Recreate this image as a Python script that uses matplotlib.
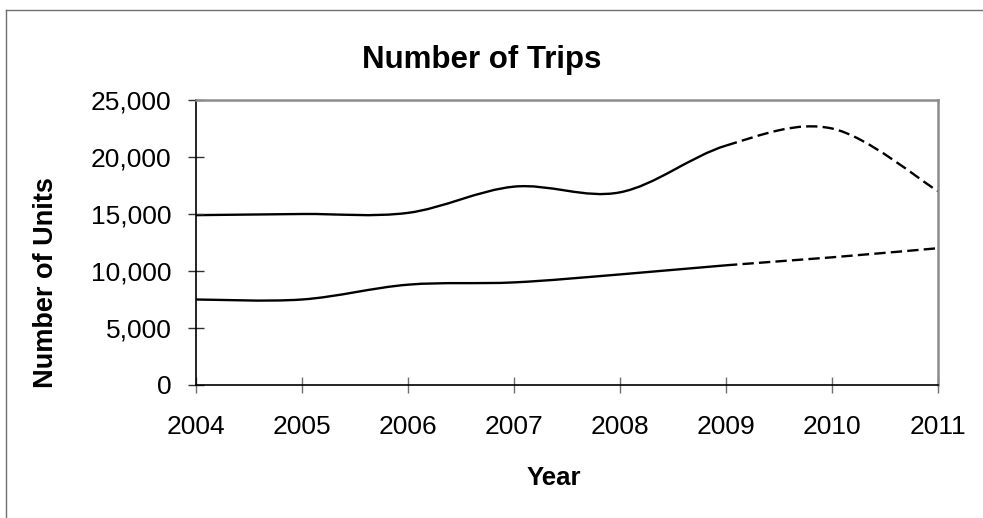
import matplotlib
matplotlib.use('Agg')
import matplotlib.pyplot as plt
from matplotlib.path import Path
from matplotlib.patches import PathPatch
from matplotlib.lines import Line2D
from matplotlib.ticker import FuncFormatter
import numpy as np

#*********** Data *********#
years = [2004, 2005, 2006, 2007, 2008, 2009, 2010, 2011]
trips_upper = [14900, 15000, 15100, 17400, 16900, 21000, 22500, 17000]
trips_lower = [7500, 7500, 8800, 9000, 9700, 10500, 11200, 12000]
last_actual = 2009  # solid up to here, dashed after

plt.rcParams['font.family'] = ['Liberation Sans', 'DejaVu Sans']


def smooth_segments(x, y):
    # Excel-like smoothed line: Catmull-Rom turned into cubic Bezier pieces
    x = np.asarray(x, float)
    y = np.asarray(y, float)
    n = len(x)
    segs = []
    for i in range(n - 1):
        i0 = max(i - 1, 0)
        i3 = min(i + 2, n - 1)
        c1 = (x[i] + (x[i + 1] - x[i0]) / 6, y[i] + (y[i + 1] - y[i0]) / 6)
        c2 = (x[i + 1] - (x[i3] - x[i]) / 6, y[i + 1] - (y[i3] - y[i]) / 6)
        segs.append([(x[i], y[i]), c1, c2, (x[i + 1], y[i + 1])])
    return segs


def draw_series(ax, x, y):
    segs = smooth_segments(x, y)
    split = x.index(last_actual)
    for part, style in ((segs[:split], 'solid'), (segs[split:], (0, (4.8, 2.2)))):
        verts = [part[0][0]]
        codes = [Path.MOVETO]
        for s in part:
            verts += s[1:]
            codes += [Path.CURVE4] * 3
        patch = PathPatch(Path(verts, codes), facecolor='none',
                          edgecolor='black', lw=1.7, capstyle='butt',
                          linestyle=style, clip_on=False)
        ax.add_patch(patch)


#********** Figure and axes ******************#
W, H = 983, 518
fig = plt.figure(figsize=(W / 100, H / 100), dpi=100)
ax = fig.add_axes([196 / W, 1 - 385 / H, (938 - 196) / W, (385 - 100) / H])

draw_series(ax, years, trips_upper)
draw_series(ax, years, trips_lower)

ax.set_xlim(years[0], years[-1])
ax.set_ylim(0, 25000)
ax.set_xticks(years)
ax.set_yticks(range(0, 25001, 5000))
ax.yaxis.set_major_formatter(FuncFormatter(lambda v, p: f'{int(v):,}'))

for side in ('left', 'bottom'):
    ax.spines[side].set_color('black')
    ax.spines[side].set_linewidth(1.2)
for side in ('top', 'right'):
    ax.spines[side].set_color('#8c8c8c')
    ax.spines[side].set_linewidth(1.8)

ax.tick_params(axis='both', direction='inout', length=11.5, width=1,
               labelsize=19)
ax.tick_params(axis='x', color='#707070', pad=15.5)
ax.tick_params(axis='y', color='#303030', pad=12)

#********** Texts ****************************#
fig.text(481.5 / W, 1 - 68 / H, 'Number of Trips', ha='center',
         va='baseline', fontsize=22.5, fontweight='bold')
fig.text(554 / W, 1 - 485 / H, 'Year', ha='center', va='baseline',
         fontsize=18.5, fontweight='bold')
fig.text(53.5 / W, 1 - 283 / H, 'Number of Units', rotation=90,
         rotation_mode='anchor', ha='center', va='baseline',
         fontsize=19.5, fontweight='bold')

# outer chart border (only top and left edges show in the picture)
fig.add_artist(Line2D([6 / W, 6 / W], [0, 1 - 10 / H], color='#707070',
                      lw=1, transform=fig.transFigure))
fig.add_artist(Line2D([6 / W, 1], [1 - 10 / H, 1 - 10 / H], color='#707070',
                      lw=1, transform=fig.transFigure))

fig.savefig('out.png', dpi=100)
